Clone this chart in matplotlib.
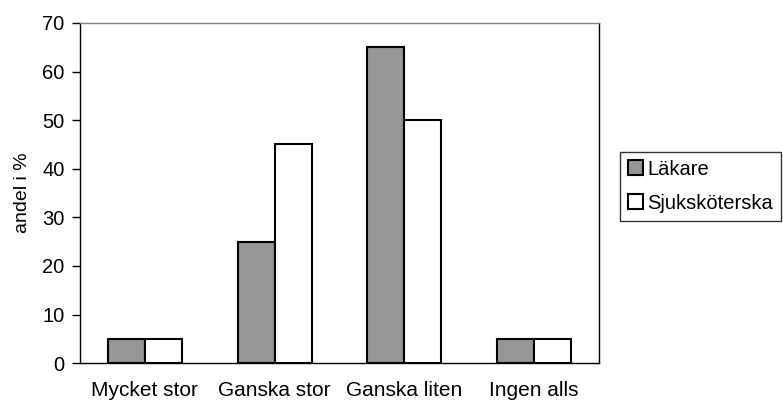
import numpy as np
import matplotlib.pyplot as plt


plt.rcParams["font.family"] = ["Liberation Sans", "DejaVu Sans"]

categories = ["Mycket stor", "Ganska stor", "Ganska liten", "Ingen alls"]
lakare = [5, 25, 65, 5]
sjukskoterska = [5, 45, 50, 5]
y_ticks = [0, 10, 20, 30, 40, 50, 60, 70]


def main():
    fig = plt.figure(figsize=(7.83, 4.03), dpi=100)
    ax = fig.add_axes([0.102, 0.099, 0.663, 0.844])

    x = np.arange(len(categories))
    width = 0.285
    ax.bar(x - width / 2, lakare, width, color="#969696", edgecolor="black",
           linewidth=1.5, label="Läkare")
    ax.bar(x + width / 2, sjukskoterska, width, color="white", edgecolor="black",
           linewidth=1.5, label="Sjuksköterska")

    ax.set_xlim(-0.5, len(categories) - 0.5)
    ax.set_ylim(0, 70)
    ax.set_yticks(y_ticks)
    ax.set_xticks(x)
    ax.set_xticklabels(categories)
    ax.tick_params(axis="x", length=0, pad=13, labelsize=15)
    ax.tick_params(axis="y", length=6, width=1, labelsize=14.5, pad=5)
    ax.set_ylabel("andel i %", fontsize=14, labelpad=8)

    for side in ["left", "bottom", "right"]:
        ax.spines[side].set_color("black")
        ax.spines[side].set_linewidth(1)
    ax.spines["top"].set_color("#808080")
    ax.spines["top"].set_linewidth(1)

    leg = ax.legend(loc="center left", bbox_to_anchor=(1.04, 0.52),
                    fontsize=14.5, frameon=True, fancybox=False, shadow=False,
                    handlelength=0.75, handleheight=0.75, handletextpad=0.2,
                    borderpad=0.4, labelspacing=0.75, borderaxespad=0)
    leg.get_frame().set_edgecolor("black")
    leg.get_frame().set_linewidth(1)

    fig.savefig("out.png", dpi=100)
    plt.close(fig)


if __name__ == "__main__":
    main()
